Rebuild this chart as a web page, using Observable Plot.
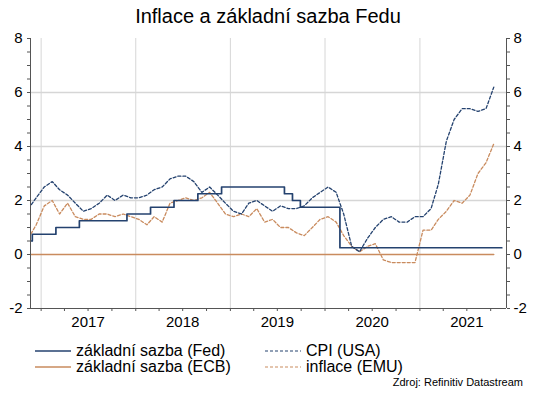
<!DOCTYPE html>
<html><head><meta charset="utf-8">
<script src="https://cdn.jsdelivr.net/npm/d3@7"></script>
<script src="https://cdn.jsdelivr.net/npm/@observablehq/plot@0.6"></script>
<style>
body{margin:0;background:#fff;font-family:"Liberation Sans",Arial,sans-serif;color:#000;}
#wrap{position:relative;width:536px;height:393px;overflow:hidden;}
#title{position:absolute;left:0;top:4px;width:536px;text-align:center;font-size:20px;line-height:24px;}
#chart{position:absolute;left:0;top:30px;}
.leg{position:absolute;font-size:16px;line-height:18px;white-space:nowrap;display:flex;align-items:center;}
.leg svg{margin-right:5px;}
#cap{position:absolute;right:13px;top:376px;font-size:11px;line-height:13px;}
</style></head><body>
<div id="wrap">
<div id="title">Inflace a základní sazba Fedu</div>
<div id="chart"></div>
<div id="legend"></div>
<div id="cap">Zdroj: Refinitiv Datastream</div>
</div>
<script>
// monthly values, Nov 2016 – Oct 2021 (Fed also Nov 2021)
const fedRate = [0.5,0.75,
 0.75,0.75,1.0,1.0,1.0,1.25,1.25,1.25,1.25,1.25,1.25,1.5,
 1.5,1.5,1.75,1.75,1.75,2.0,2.0,2.0,2.25,2.25,2.25,2.5,
 2.5,2.5,2.5,2.5,2.5,2.5,2.5,2.25,2.0,1.75,1.75,1.75,
 1.75,1.75,0.25,0.25,0.25,0.25,0.25,0.25,0.25,0.25,0.25,0.25,
 0.25,0.25,0.25,0.25,0.25,0.25,0.25,0.25,0.25,0.25,0.25];
const ecbRate = [0,0,
 0,0,0,0,0,0,0,0,0,0,0,0,
 0,0,0,0,0,0,0,0,0,0,0,0,
 0,0,0,0,0,0,0,0,0,0,0,0,
 0,0,0,0,0,0,0,0,0,0,0,0,
 0,0,0,0,0,0,0,0,0,0];
const cpiUSA = [1.7,2.1,
 2.5,2.7,2.4,2.2,1.9,1.6,1.7,1.9,2.2,2.0,2.2,2.1,
 2.1,2.2,2.4,2.5,2.8,2.9,2.9,2.7,2.3,2.5,2.2,1.9,
 1.6,1.5,1.9,2.0,1.8,1.6,1.8,1.7,1.7,1.8,2.1,2.3,
 2.5,2.3,1.5,0.3,0.1,0.6,1.0,1.3,1.4,1.2,1.2,1.4,
 1.4,1.7,2.6,4.2,5.0,5.4,5.4,5.3,5.4,6.2];
const inflEMU = [0.6,1.1,
 1.8,2.0,1.5,1.9,1.4,1.3,1.3,1.5,1.5,1.4,1.5,1.4,
 1.3,1.1,1.4,1.2,1.9,2.0,2.1,2.0,2.1,2.3,1.9,1.5,
 1.4,1.5,1.4,1.7,1.2,1.3,1.0,1.0,0.8,0.7,1.0,1.3,
 1.4,1.2,0.7,0.3,0.1,0.3,0.4,-0.2,-0.3,-0.3,-0.3,-0.3,
 0.9,0.9,1.3,1.6,2.0,1.9,2.2,3.0,3.4,4.1];
const yearLabels = [2017,2018,2019,2020,2021];
const yTicks = [-2,0,2,4,6,8];
const seriesNames = ["základní sazba (Fed)","základní sazba (ECB)","CPI (USA)","inflace (EMU)"];

const navy = "#24426f", orange = "#c98b5e";
const firstMonth = new Date(Date.UTC(2016,10,1));
const dateAt = i => d3.utcDay.offset(d3.utcMonth.offset(firstMonth, i), 12);
const rows = (vals) => vals.map((v,i) => ({date: dateAt(i), value: v}));

const xDomain = [new Date(Date.UTC(2016,10,21)), new Date(Date.UTC(2021,11,1))];
const yearStarts = yearLabels.map(y => new Date(Date.UTC(y,0,1)));
const yearMids = yearLabels.map(y => new Date(Date.UTC(y,6,1)));
const quarters = d3.utcMonth.every(3).range(xDomain[0], xDomain[1]);
const yMinor = d3.range(-2, 8.01, 0.5);
const fmt = d => String(d);

const chart = Plot.plot({
  width: 536, height: 305,
  marginLeft: 30, marginRight: 30, marginTop: 8, marginBottom: 27,
  x: {type: "utc", domain: xDomain, label: null},
  y: {domain: [-2, 8], label: null},
  style: {fontFamily: "'Liberation Sans', Arial, sans-serif", fontSize: "15px", color: "#000", background: "#fff"},
  marks: [
    Plot.gridX(yearStarts, {stroke: "#d6d6d6", strokeOpacity: 1}),
    Plot.gridY([2,4,6], {stroke: "#d6d6d6", strokeOpacity: 1, strokeWidth: 1.3}),
    Plot.lineY(rows(ecbRate), {x: "date", y: "value", stroke: orange, strokeWidth: 1.4, clip: true}),
    Plot.lineY(rows(inflEMU), {x: "date", y: "value", stroke: orange, strokeWidth: 1.3, strokeDasharray: "3,2", clip: true}),
    Plot.lineY(rows(cpiUSA), {x: "date", y: "value", stroke: navy, strokeWidth: 1.3, strokeDasharray: "3,2", clip: true}),
    Plot.lineY(rows(fedRate), {x: "date", y: "value", stroke: navy, strokeWidth: 1.7, curve: "step", clip: true}),
    Plot.ruleX([xDomain[0], xDomain[1]], {stroke: "#555"}),
    Plot.ruleY([-2], {stroke: "#555"}),
    Plot.axisY(yMinor, {anchor: "left", tickSize: 3, text: null, stroke: "#555", label: null}),
    Plot.axisY(yMinor, {anchor: "right", tickSize: 3, text: null, stroke: "#555", label: null}),
    Plot.axisY(yTicks, {anchor: "left", tickSize: 0, tickPadding: 8, label: null, tickFormat: fmt}),
    Plot.axisY(yTicks, {anchor: "right", tickSize: 0, tickPadding: 7, label: null, tickFormat: fmt}),
    Plot.axisX(quarters, {anchor: "bottom", tickSize: 3, text: null, stroke: "#555", label: null}),
    Plot.axisX(yearMids, {anchor: "bottom", tickSize: 0, tickPadding: 8, tickFormat: "%Y", label: null})
  ]
});
document.getElementById("chart").appendChild(chart);

const legendItems = [
  {name: seriesNames[0], color: navy, dash: null, left: 35, top: 342},
  {name: seriesNames[1], color: orange, dash: null, left: 35, top: 358},
  {name: seriesNames[2], color: navy, dash: "3,2", left: 265, top: 342},
  {name: seriesNames[3], color: orange, dash: "3,2", left: 265, top: 358}
];
const leg = document.getElementById("legend");
for (const it of legendItems) {
  const d = document.createElement("div");
  d.className = "leg";
  d.style.left = it.left + "px";
  d.style.top = it.top + "px";
  d.innerHTML = `<svg width="36" height="4"><line x1="0" x2="36" y1="2" y2="2" stroke="${it.color}" stroke-width="${it.dash ? 1.2 : 1.6}" ${it.dash ? `stroke-dasharray="${it.dash}"` : ""}/></svg><span>${it.name}</span>`;
  leg.appendChild(d);
}
</script>
</body></html>
